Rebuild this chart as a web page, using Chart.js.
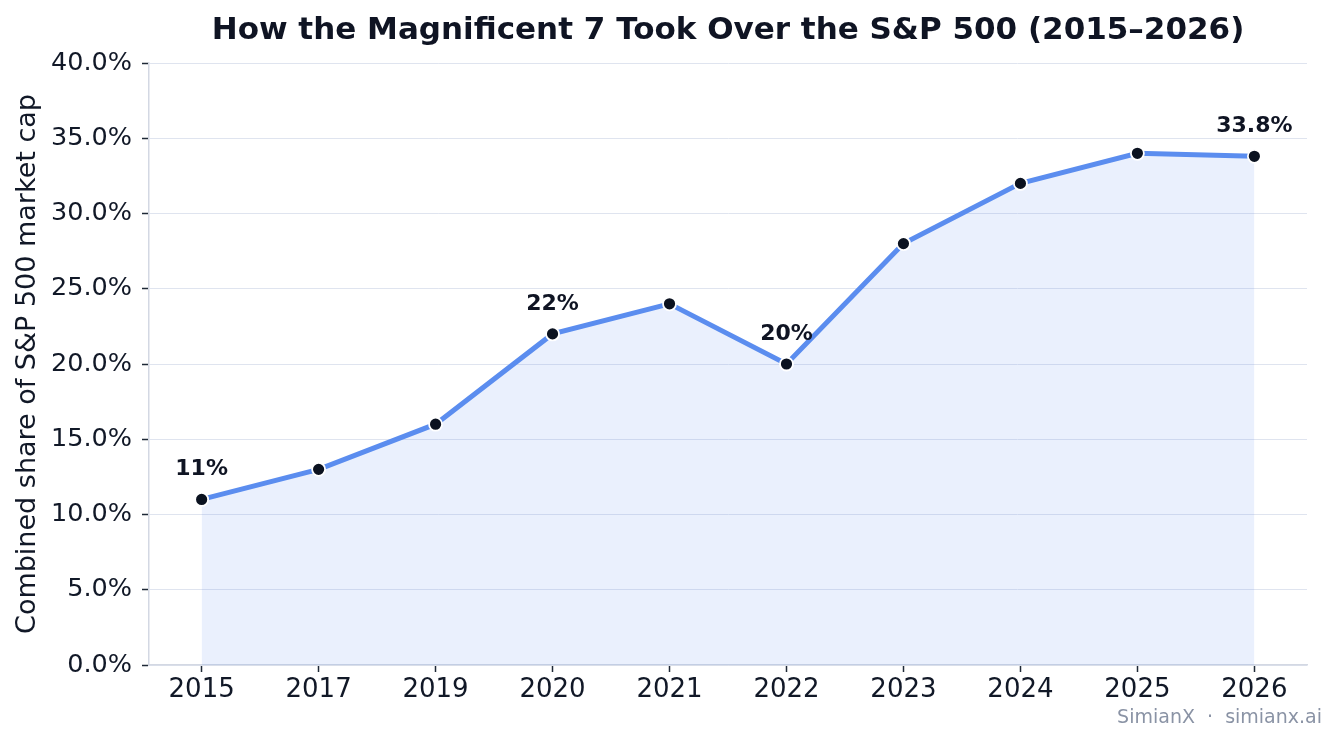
<!DOCTYPE html>
<html>
<head>
<meta charset="utf-8">
<script src="https://cdn.jsdelivr.net/npm/chart.js@4.4.1/dist/chart.umd.min.js"></script>
<style>
  html, body { margin: 0; padding: 0; background: #fff; }
  #wrap { width: 1337px; height: 743px; position: relative; }
</style>
</head>
<body>
<div id="wrap"><canvas id="magChart"></canvas></div>
<script>
var years = ['2015', '2017', '2019', '2020', '2021', '2022', '2023', '2024', '2025', '2026'];
var sharePct = [11, 13, 16, 22, 24, 20, 28, 32, 34, 33.8];
var labelled = ['2015', '2020', '2022', '2026'];
var yTicks = [0, 5, 10, 15, 20, 25, 30, 35, 40];

var FONT = "'DejaVu Sans', sans-serif";

var points = years.map(function(y, i) { return { x: i, y: sharePct[i] }; });

// title, value labels and watermark
var extras = {
  id: 'extras',
  afterDatasetsDraw: function(chart) {
    var c = chart.ctx;
    var area = chart.chartArea;
    var meta = chart.getDatasetMeta(0);
    c.save();
    c.fillStyle = '#0f1423';
    c.textAlign = 'center';
    c.textBaseline = 'middle';
    c.font = 'bold 22px ' + FONT;
    years.forEach(function(y, i) {
      if (labelled.indexOf(y) < 0) return;
      var p = meta.data[i];
      c.fillText(sharePct[i] + '%', p.x, p.y - 30);
    });
    c.textBaseline = 'alphabetic';
    c.font = 'bold 31px ' + FONT;
    c.fillText('How the Magnificent 7 Took Over the S&P 500 (2015\u20132026)', (area.left + area.right) / 2, 39);
    c.textAlign = 'right';
    c.fillStyle = '#8a93a5';
    c.font = '19px ' + FONT;
    c.fillText('SimianX  \u00b7  simianx.ai', 1322, 723);
    c.restore();
  }
};

var ctx = document.getElementById('magChart').getContext('2d');
var magChart = new Chart(ctx, {
  type: 'line',
  data: {
    datasets: [{
      data: points,
      borderColor: '#5b8def',
      borderWidth: 5,
      backgroundColor: 'rgba(91,141,239,0.13)',
      fill: 'origin',
      tension: 0,
      pointRadius: 6.5,
      pointBorderWidth: 1.8,
      pointBackgroundColor: '#0b1220',
      pointBorderColor: '#ffffff'
    }]
  },
  options: {
    responsive: true,
    maintainAspectRatio: false,
    animation: false,
    layout: { padding: { top: 63, right: 30, left: 0, bottom: 0 } },
    plugins: {
      legend: { display: false },
      tooltip: { enabled: false }
    },
    scales: {
      x: {
        type: 'linear',
        min: -0.45,
        max: 9.45,
        afterBuildTicks: function(scale) {
          scale.ticks = years.map(function(y, i) { return { value: i }; });
        },
        afterFit: function(scale) { scale.height = 78; },
        ticks: {
          callback: function(v) { return years[v]; },
          font: { family: FONT, size: 26 },
          color: '#111827',
          padding: 3,
          maxRotation: 0
        },
        grid: { drawOnChartArea: false, tickLength: 7, tickColor: '#1f2937', tickWidth: 1.5 },
        border: { display: true, color: '#d3d8e3', width: 1.5 }
      },
      y: {
        min: 0,
        max: 40,
        afterBuildTicks: function(scale) {
          scale.ticks = yTicks.map(function(v) { return { value: v }; });
        },
        afterFit: function(scale) { scale.width = 149; },
        ticks: {
          callback: function(v) { return v.toFixed(1) + '%'; },
          font: { family: FONT, size: 25.5 },
          color: '#111827',
          padding: 10
        },
        grid: { color: '#dfe4ef', lineWidth: 1, tickLength: 7, tickColor: '#1f2937', tickWidth: 1.5 },
        border: { display: true, color: '#d3d8e3', width: 1.5 },
        title: {
          display: true,
          text: 'Combined share of S&P 500 market cap',
          font: { family: FONT, size: 27 },
          color: '#111827',
          padding: { top: 12, bottom: 0 }
        }
      }
    }
  },
  plugins: [extras]
});
</script>
</body>
</html>
